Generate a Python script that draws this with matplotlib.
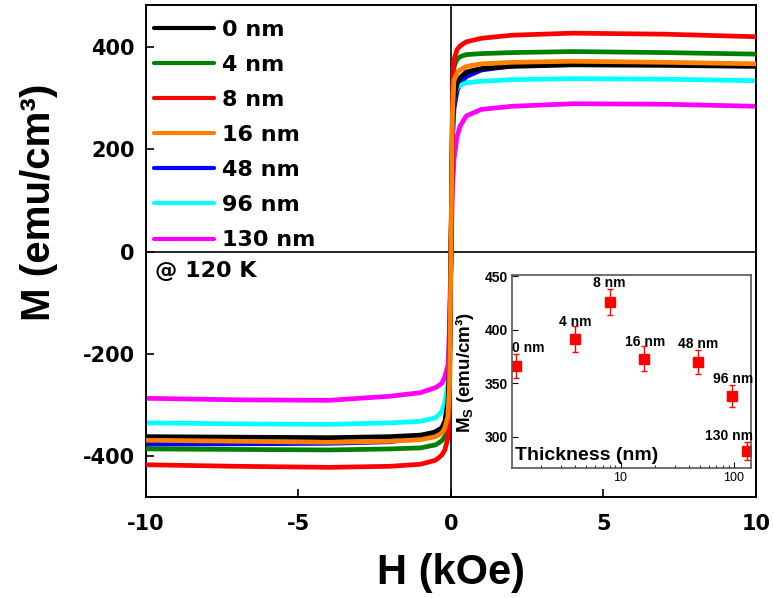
import numpy as np
import matplotlib
matplotlib.use('Agg')
import matplotlib.pyplot as plt
from matplotlib.ticker import FixedLocator, FixedFormatter, NullFormatter

plt.rcParams['axes.unicode_minus'] = False
plt.rcParams['mathtext.fontset'] = 'custom'
plt.rcParams['mathtext.rm'] = 'Liberation Sans'
plt.rcParams['mathtext.bf'] = 'Liberation Sans:bold'

# applied field (kOe), common grid for every loop
H_field = [-10, -7, -4, -2, -1, -0.5, -0.3, -0.2, -0.1, -0.05, 0,
           0.05, 0.1, 0.2, 0.3, 0.5, 1, 2, 4, 7, 10]

# magnetization (emu/cm^3) for each film thickness
m_0nm = [-362, -363, -364, -362, -359, -353, -345, -332, -295, -220, 0,
         240, 300, 328, 340, 351, 358, 362, 365, 364, 362]
m_4nm = [-386, -387, -388, -386, -384, -378, -370, -362, -345, -280, 0,
         300, 362, 376, 381, 385, 387, 389, 391, 389, 386]
m_8nm = [-417, -420, -422, -420, -416, -408, -398, -388, -365, -300, 0,
         300, 375, 395, 402, 410, 417, 423, 427, 425, 420]
m_16nm = [-369, -371, -373, -371, -368, -362, -355, -345, -322, -260, 0,
          270, 335, 349, 355, 362, 367, 370, 372, 370, 367]
m_48nm = [-377, -376, -375, -372, -364, -352, -345, -335, -300, -230, 0,
          220, 280, 315, 328, 342, 355, 363, 368, 367, 365]
m_96nm = [-335, -337, -338, -335, -332, -325, -313, -295, -260, -200, 0,
          230, 305, 320, 325, 330, 333, 336, 338, 337, 334]
m_130nm = [-287, -290, -291, -283, -276, -266, -258, -245, -222, -150, 0,
           120, 180, 225, 245, 265, 278, 284, 289, 288, 284]

loop_labels = ['0 nm', '4 nm', '8 nm', '16 nm', '48 nm', '96 nm', '130 nm']
loop_colors = ['black', 'green', 'red', '#ff8000', 'blue', 'cyan', 'magenta']
loop_z = [4, 3, 3, 6, 2, 2, 2]

# saturation magnetization vs thickness (inset)
# the 0 nm film sits at 1.2 nm on the log axis
thick_pos = [1.2, 4, 8, 16, 48, 96, 130]
ms = [366, 391, 426, 373, 370, 338, 287]
ms_err = [11, 12, 12, 11.5, 11, 10.5, 8.5]
# label offsets in pixels
lab_off = [(12, 18), (0, 17), (0, 19), (1, 17), (0, 18), (1, 17), (-18, 15)]

lab_font = 'Liberation Sans'
tick_font = 'DejaVu Sans'

fig = plt.figure(figsize=(7.74, 5.98), dpi=100)
ax = fig.add_axes([0.1886, 0.1689, 0.7881, 0.8227])

curves = [m_0nm, m_4nm, m_8nm, m_16nm, m_48nm, m_96nm, m_130nm]
for m, lb, cl, z in zip(curves, loop_labels, loop_colors, loop_z):
    ax.plot(H_field, m, color=cl, lw=3.4, label=lb, zorder=z,
            solid_capstyle='round', solid_joinstyle='round')

ax.axhline(0, color='black', lw=1.2, zorder=1)
ax.axvline(0, color='black', lw=1.2, zorder=1)

ax.set_xlim(-10, 10)
ax.set_ylim(-480, 482)
ax.set_xticks([-10, -5, 0, 5, 10])
ax.set_yticks([-400, -200, 0, 200, 400])
ax.tick_params(direction='in', length=6, width=1.2, labelsize=15)
ax.tick_params(axis='x', pad=12)
ax.tick_params(axis='y', pad=8)
for t in ax.get_xticklabels() + ax.get_yticklabels():
    t.set_fontweight('bold')
    t.set_fontfamily(tick_font)
for s in ax.spines.values():
    s.set_linewidth(1.4)

ax.set_xlabel('H (kOe)', fontsize=30, fontweight='bold', family=lab_font)
ax.set_ylabel('M (emu/cm³)', fontsize=29, fontweight='bold', family=lab_font)
ax.xaxis.set_label_coords(0.5, -0.114)
ax.yaxis.set_label_coords(-0.144, 0.6)

leg = ax.legend(loc='upper left', bbox_to_anchor=(0, 0.986), frameon=False,
                handlelength=2.7, handletextpad=0.35, labelspacing=0.68,
                borderaxespad=0.05, borderpad=0.3,
                prop={'family': tick_font, 'weight': 'bold', 'size': 16})
for ln in leg.get_lines():
    ln.set_linewidth(3)

ax.text(-9.72, -38, '@ 120 K', fontsize=16, fontweight='bold',
        family=tick_font, va='center', ha='left')

# inset: Ms against thickness
ins = fig.add_axes([0.6615, 0.2174, 0.3088, 0.3227])
ins.errorbar(thick_pos, ms, yerr=ms_err, fmt='s', color='red', ms=6.5,
             ecolor='red', elinewidth=1, capsize=2.5, capthick=1)
for x, y, lb, off in zip(thick_pos, ms, loop_labels, lab_off):
    ins.annotate(lb, (x, y), xytext=off, textcoords='offset pixels',
                 ha='center', va='center', fontsize=10, fontweight='bold',
                 family=lab_font)
ins.set_xscale('log')
ins.set_xlim(1.1, 142)
ins.set_ylim(271, 451)
ins.set_yticks([300, 350, 400, 450])
ins.xaxis.set_major_locator(FixedLocator([10, 100]))
ins.xaxis.set_major_formatter(FixedFormatter(['10', '100']))
ins.xaxis.set_minor_locator(FixedLocator([2, 3, 4, 5, 6, 7, 8, 9, 20, 30,
                                          40, 50, 60, 70, 80, 90]))
ins.xaxis.set_minor_formatter(NullFormatter())
ins.tick_params(which='both', direction='in', labelsize=10, pad=3)
ins.tick_params(which='major', length=4)
ins.tick_params(which='minor', length=2)
for t in ins.get_yticklabels():
    t.set_fontweight('bold')
    t.set_fontfamily(lab_font)
for t in ins.get_xticklabels():
    t.set_fontfamily(lab_font)
    t.set_fontsize(9)
for s in ins.spines.values():
    s.set_color('#555555')
    s.set_linewidth(1.2)
ins.set_ylabel('M$_\\mathbf{S}$ (emu/cm³)', fontsize=13.5,
               fontweight='bold', family=lab_font)
ins.yaxis.set_label_coords(-0.15, 0.497)
ins.text(0.013, 0.067, 'Thickness (nm)', transform=ins.transAxes,
         fontsize=14, fontweight='bold', family=lab_font, va='center')

fig.savefig('out.png', dpi=100)
